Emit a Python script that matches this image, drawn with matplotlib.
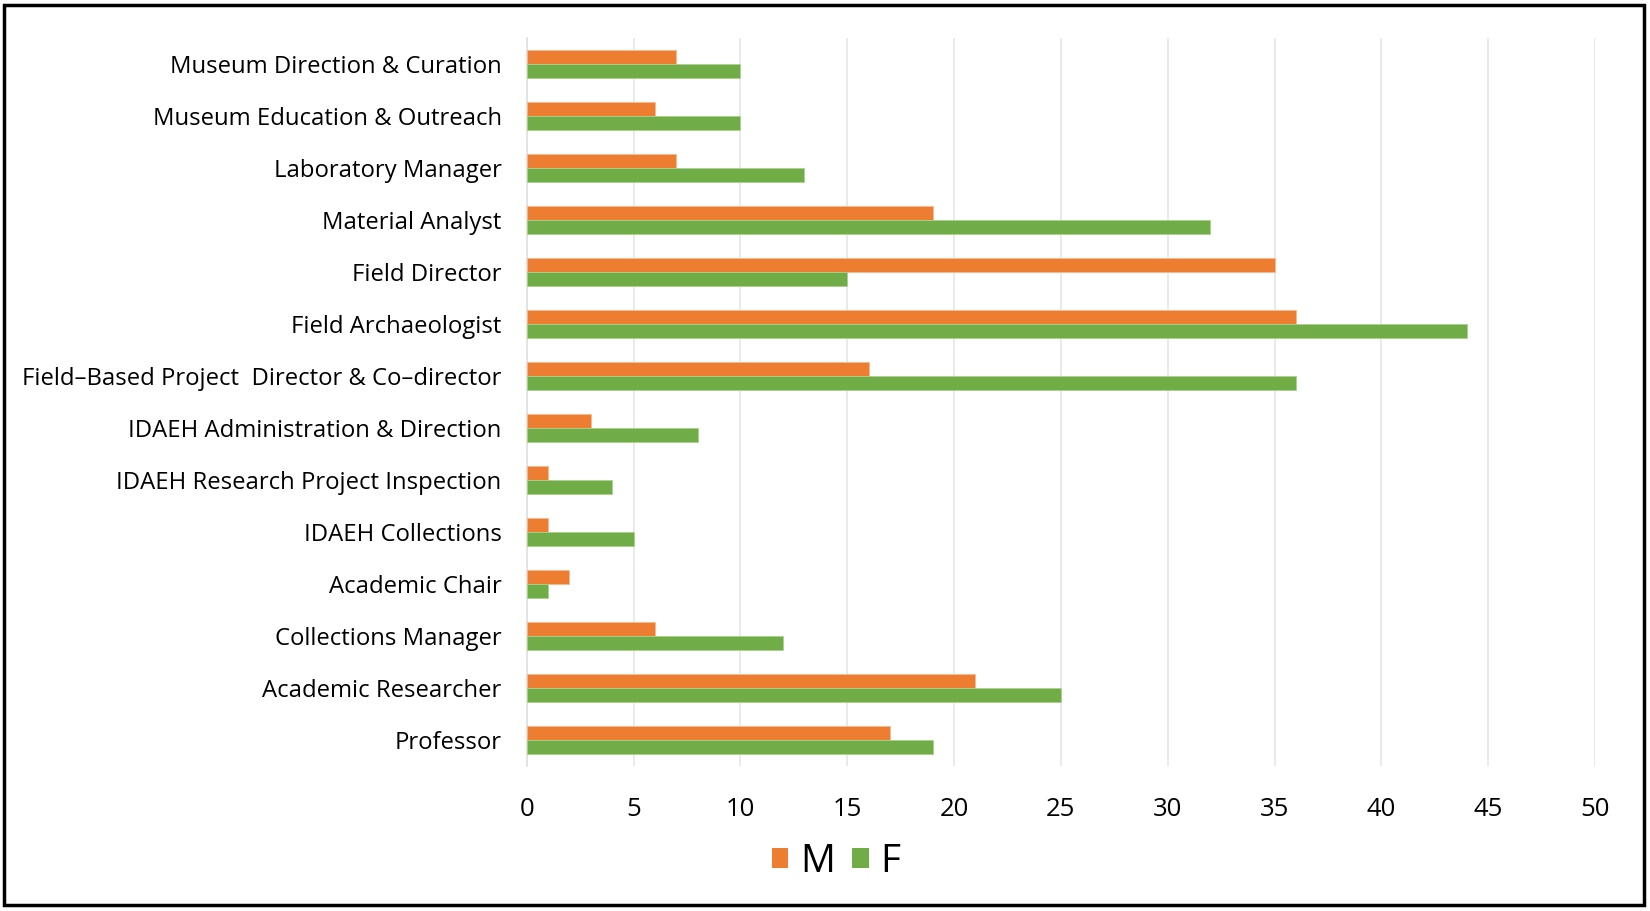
import matplotlib
matplotlib.use("Agg")
import matplotlib.pyplot as plt
from matplotlib.patches import Rectangle, Patch
import numpy as np

categories = [
    "Museum Direction & Curation",
    "Museum Education & Outreach",
    "Laboratory Manager",
    "Material Analyst",
    "Field Director",
    "Field Archaeologist",
    "Field\u2013Based Project  Director & Co\u2013director",
    "IDAEH Administration & Direction",
    "IDAEH Research Project Inspection",
    "IDAEH Collections",
    "Academic Chair",
    "Collections Manager",
    "Academic Researcher",
    "Professor",
]
male = [7, 6, 7, 19, 35, 36, 16, 3, 1, 1, 2, 6, 21, 17]
female = [10, 10, 13, 32, 15, 44, 36, 8, 4, 5, 1, 12, 25, 19]
series_names = ["M", "F"]
x_ticks = [0, 5, 10, 15, 20, 25, 30, 35, 40, 45, 50]

C_M = "#ED7D31"
C_F = "#70AD47"
FONT = ["Open Sans", "DejaVu Sans"]

plt.rcParams["font.family"] = FONT

fig = plt.figure(figsize=(16.5, 9.11), dpi=100)
ax = fig.add_axes([526.7 / 1650, 1 - 766 / 911, (1595 - 526.7) / 1650, (766 - 38) / 911])

n = len(categories)
y = np.arange(n)
h = 0.26
ax.barh(y - h / 2, male, height=h, color=C_M, edgecolor="#F6B98F", linewidth=0.6, label=series_names[0], zorder=3)
ax.barh(y + h / 2, female, height=h, color=C_F, edgecolor="#A9D18E", linewidth=0.6, label=series_names[1], zorder=3)

ax.set_ylim(n - 0.5, -0.5)
ax.set_xlim(0, 50)
ax.set_xticks(x_ticks)
ax.set_xticklabels([str(t) for t in x_ticks], fontsize=18.5)
ax.set_yticks(y)
ax.set_yticklabels(categories, fontsize=17.2)
ax.tick_params(axis="both", length=0, colors="#000000")
ax.tick_params(axis="y", pad=18)
ax.tick_params(axis="x", pad=22)
ax.grid(axis="x", color="#E6E6E6", linewidth=1.2, zorder=0)
for s in ["top", "right", "bottom"]:
    ax.spines[s].set_visible(False)
ax.spines["left"].set_color("#E0E0E0")
ax.spines["left"].set_linewidth(1.2)

handles = [Patch(facecolor=C_M), Patch(facecolor=C_F)]
fig.legend(handles, series_names, loc="center", bbox_to_anchor=(836 / 1650, 1 - 862 / 911),
           ncol=2, frameon=False, fontsize=28, handlelength=0.42, handleheight=0.42,
           handletextpad=0.3, columnspacing=0.45)

fig.patches.append(Rectangle((4 / 1650, 1 - 905 / 911), 1640 / 1650, 900 / 911,
                             transform=fig.transFigure, fill=False, edgecolor="black",
                             linewidth=2.5, zorder=10))

fig.savefig("out.png", dpi=100, facecolor="white")
